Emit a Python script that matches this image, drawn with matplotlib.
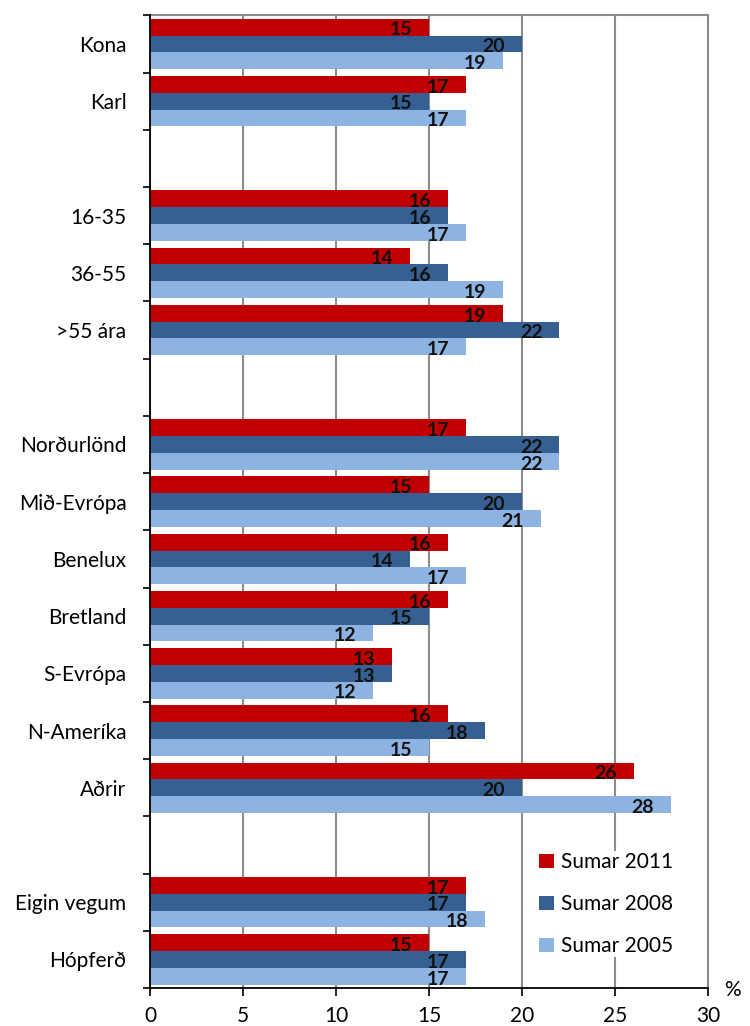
import numpy as np
import matplotlib
matplotlib.use("Agg")
import matplotlib.pyplot as plt
from matplotlib.ticker import FixedLocator

# "" marks an empty spacer row between groups of categories
categories = ["Kona", "Karl", "",
              "16-35", "36-55", ">55 ára", "",
              "Norðurlönd", "Mið-Evrópa", "Benelux", "Bretland", "S-Evrópa",
              "N-Ameríka", "Aðrir", "",
              "Eigin vegum", "Hópferð"]
sumar_2011 = [15, 17, None, 16, 14, 19, None, 17, 15, 16, 16, 13, 16, 26, None, 17, 15]
sumar_2008 = [20, 15, None, 16, 16, 22, None, 22, 20, 14, 15, 13, 18, 20, None, 17, 17]
sumar_2005 = [19, 17, None, 17, 19, 17, None, 22, 21, 17, 12, 12, 15, 28, None, 18, 17]
series_labels = ["Sumar 2011", "Sumar 2008", "Sumar 2005"]
xticks = [0, 5, 10, 15, 20, 25, 30]

colors = ["#C00000", "#376092", "#8DB3E2"]
FONT = ["Lato", "DejaVu Sans"]
plt.rcParams["font.family"] = FONT

fig = plt.figure(figsize=(7.5, 10.26), dpi=100)
ax = fig.add_axes([0.2, 0.037, 0.744, 0.948])

y = np.arange(len(categories))
h = 0.294
handles = []
for k, (vals, lab, col) in enumerate(zip([sumar_2011, sumar_2008, sumar_2005], series_labels, colors)):
    v = np.array([np.nan if x is None else x for x in vals], dtype=float)
    pos = y + (k - 1) * h
    b = ax.barh(pos, np.nan_to_num(v), height=h, color=col, label=lab, zorder=3)
    handles.append(b)
    for yy, xx in zip(pos, v):
        if np.isnan(xx):
            continue
        ax.annotate(f"{xx:.0f}", (xx, yy), xytext=(-12, -2), textcoords="offset points",
                    ha="right", va="center", fontsize=14, fontweight="bold",
                    color="#111111", zorder=4)

ax.set_xlim(0, 30)
ax.set_ylim(len(categories) - 0.5, -0.5)
ax.set_xticks(xticks)
ax.set_xticklabels([str(t) for t in xticks], fontsize=15)
ax.tick_params(axis="x", direction="out", length=6, width=1.2, pad=7, colors="black")

# boundary ticks on y, labels centred in each slot via minor ticks
ax.yaxis.set_major_locator(FixedLocator(np.arange(len(categories) + 1) - 0.5))
ax.yaxis.set_major_formatter(plt.NullFormatter())
ax.yaxis.set_minor_locator(FixedLocator(y))
ax.set_yticklabels(categories, minor=True, fontsize=15)
ax.tick_params(axis="y", which="minor", length=0, pad=17)
ax.tick_params(axis="y", which="major", direction="out", length=5, width=1.2)

ax.grid(axis="x", color="#8c8c8c", linewidth=1.5, zorder=0)
for s in ("top", "right"):
    ax.spines[s].set_color("#8c8c8c")
    ax.spines[s].set_linewidth(1.5)
for s in ("left", "bottom"):
    ax.spines[s].set_color("black")
    ax.spines[s].set_linewidth(1.3)
    ax.spines[s].set_zorder(5)

ax.text(1.043, -0.002, "%", transform=ax.transAxes, fontsize=15, ha="center", va="center")

leg = ax.legend(handles=handles, loc="lower right", bbox_to_anchor=(0.958, 0.021),
                frameon=True, fontsize=15, handlelength=0.7, handleheight=0.7,
                handletextpad=0.35, labelspacing=1.05, borderpad=0.05)
leg.get_frame().set_edgecolor("none")
leg.get_frame().set_facecolor("white")
leg.get_frame().set_alpha(1.0)
leg.set_zorder(6)

fig.savefig("out.png", dpi=100)
